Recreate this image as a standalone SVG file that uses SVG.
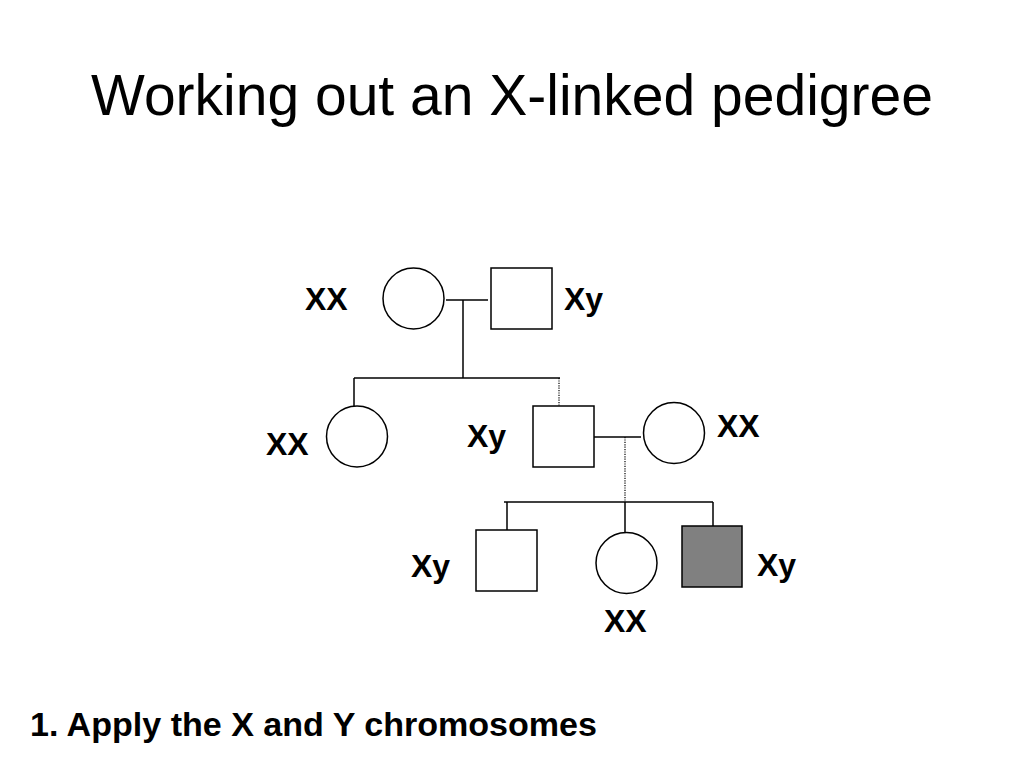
<svg xmlns="http://www.w3.org/2000/svg" width="1024" height="768" viewBox="0 0 1024 768">
<style>
.shape{fill:#ffffff;stroke:#000000;stroke-width:1.5}
.affected{fill:#808080;stroke:#000000;stroke-width:1.5}
.line{fill:none;stroke:#000000;stroke-width:1.5}
.dot{fill:none;stroke:#000000;stroke-width:1.2;stroke-dasharray:1.2 1.2}
.lbl{font-family:"Liberation Sans",Arial,sans-serif;font-weight:bold;font-size:32px;fill:#000000}
.title{font-family:"Liberation Sans",Arial,sans-serif;font-size:57px;fill:#000000}
.note{font-family:"Liberation Sans",Arial,sans-serif;font-weight:bold;font-size:33px;fill:#000000}
</style>
<rect width="1024" height="768" fill="#ffffff"/>
<text class="title" x="512" y="115" text-anchor="middle">Working out an X-linked pedigree</text>

<g id="connectors">
  <line class="line" x1="446" y1="300" x2="488" y2="300"/>
  <line class="line" x1="463" y1="300" x2="463" y2="378"/>
  <line class="line" x1="354" y1="378" x2="560" y2="378"/>
  <line class="line" x1="354" y1="378" x2="354" y2="406"/>
  <line class="dot" x1="559" y1="378" x2="559" y2="409"/>
  <line class="line" x1="594" y1="437" x2="641" y2="437"/>
  <line class="dot" x1="625" y1="437" x2="625" y2="502"/>
  <line class="line" x1="504" y1="502" x2="713" y2="502"/>
  <line class="line" x1="507" y1="502" x2="507" y2="530"/>
  <line class="line" x1="625" y1="502" x2="625" y2="532"/>
  <line class="line" x1="713" y1="502" x2="713" y2="530"/>
</g>

<g id="gen1-mother">
  <circle class="shape" cx="413.5" cy="298.5" r="30.5"/>
  <text class="lbl" x="305" y="310">XX</text>
</g>
<g id="gen1-father">
  <rect class="shape" x="491" y="268" width="61" height="61"/>
  <text class="lbl" x="564" y="310">Xy</text>
</g>
<g id="gen2-daughter">
  <circle class="shape" cx="357" cy="436.5" r="30.5"/>
  <text class="lbl" x="266" y="455">XX</text>
</g>
<g id="gen2-son">
  <rect class="shape" x="533" y="406" width="61" height="61"/>
  <text class="lbl" x="467" y="447">Xy</text>
</g>
<g id="gen2-wife">
  <circle class="shape" cx="674" cy="433" r="30.5"/>
  <text class="lbl" x="717" y="437">XX</text>
</g>
<g id="gen3-son1">
  <rect class="shape" x="476" y="530" width="61" height="61"/>
  <text class="lbl" x="411" y="577">Xy</text>
</g>
<g id="gen3-daughter">
  <circle class="shape" cx="626.5" cy="563" r="30.5"/>
  <text class="lbl" x="604" y="632">XX</text>
</g>
<g id="gen3-son2">
  <rect class="affected" x="682" y="526" width="60" height="61"/>
  <text class="lbl" x="757" y="576">Xy</text>
</g>

<text class="note" x="30" y="736" textLength="567" lengthAdjust="spacingAndGlyphs">1. Apply the X and Y chromosomes</text>
</svg>
